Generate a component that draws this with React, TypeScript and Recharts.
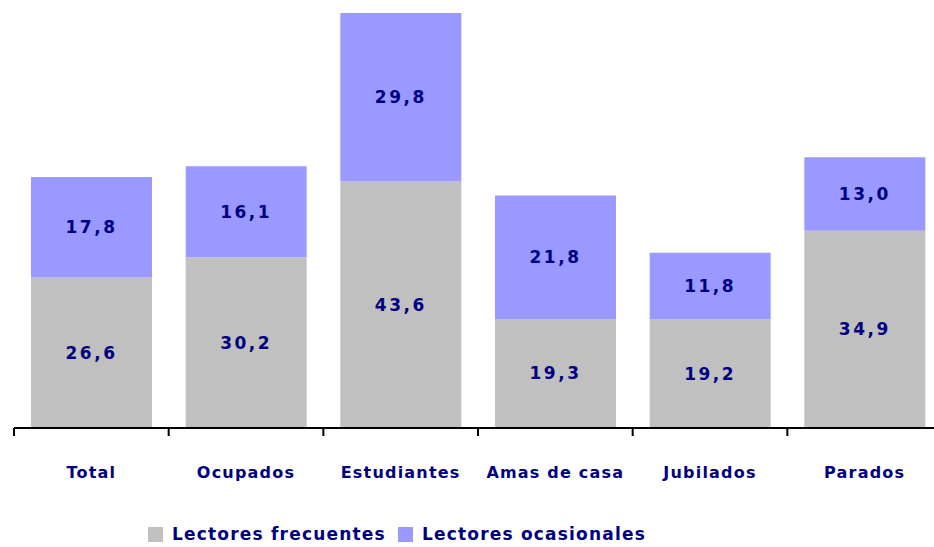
import { Bar, BarChart, LabelList, Legend, XAxis, YAxis } from "recharts";

const categories = ["Total", "Ocupados", "Estudiantes", "Amas de casa", "Jubilados", "Parados"];
const frecuentes = [26.6, 30.2, 43.6, 19.3, 19.2, 34.9];
const ocasionales = [17.8, 16.1, 29.8, 21.8, 11.8, 13.0];

const GREY = "#C0C0C0";
const PURPLE = "#9999FF";
const NAVY = "#000080";
const FONT = "'DejaVu Sans', Verdana, sans-serif";

const data = categories.map((name, i) => ({
  name,
  frecuentes: frecuentes[i],
  ocasionales: ocasionales[i],
}));

const fmt = (v: unknown) => Number(v).toFixed(1).replace(".", ",");

// category label in the middle, tick marks on the category boundaries
function AxisTick(props: any) {
  const { x, y, payload, width, visibleTicksCount, index } = props;
  const step = width / visibleTicksCount;
  return (
    <g>
      <line x1={x - step / 2} x2={x - step / 2} y1={y} y2={y + 8} stroke="#000" strokeWidth={2} />
      {index === visibleTicksCount - 1 && (
        <line x1={x + step / 2} x2={x + step / 2} y1={y} y2={y + 8} stroke="#000" strokeWidth={2} />
      )}
      <text
        x={x}
        y={y + 50}
        textAnchor="middle"
        fill={NAVY}
        fontFamily={FONT}
        fontWeight="bold"
        fontSize={16}
        letterSpacing={1.2}
      >
        {payload.value}
      </text>
    </g>
  );
}

function LegendBox() {
  const items = [
    { label: "Lectores frecuentes", color: GREY },
    { label: "Lectores ocasionales", color: PURPLE },
  ];
  return (
    <div style={{ display: "flex", alignItems: "center", marginLeft: 134 }}>
      {items.map((it) => (
        <div key={it.label} style={{ display: "flex", alignItems: "center", marginRight: 12 }}>
          <span style={{ width: 15, height: 15, background: it.color, display: "inline-block", marginRight: 9 }} />
          <span
            style={{
              color: NAVY,
              fontFamily: FONT,
              fontWeight: "bold",
              fontSize: 17,
              letterSpacing: 1.2,
              lineHeight: "20px",
            }}
          >
            {it.label}
          </span>
        </div>
      ))}
    </div>
  );
}

export default function App() {
  return (
    <div style={{ position: "absolute", left: 0, top: 0, width: 934, height: 547, overflow: "hidden", background: "#fff" }}>
      <BarChart
        width={942}
        height={547}
        data={data}
        margin={{ top: 13, right: 0, bottom: 39, left: 14 }}
        barCategoryGap={17}
      >
        <XAxis
          dataKey="name"
          interval={0}
          height={60}
          axisLine={{ stroke: "#000", strokeWidth: 2 }}
          tickLine={false}
          tickSize={0}
          tickMargin={0}
          tick={<AxisTick />}
        />
        <YAxis hide domain={[0, 73.4]} allowDataOverflow />
        <Legend verticalAlign="bottom" align="left" content={<LegendBox />} wrapperStyle={{ bottom: 3 }} />
        <Bar dataKey="frecuentes" stackId="a" fill={GREY} isAnimationActive={false}>
          <LabelList
            dataKey="frecuentes"
            position="center"
            formatter={fmt}
            fill={NAVY}
            fontFamily={FONT}
            fontWeight="bold"
            fontSize={17}
            letterSpacing={2.5}
          />
        </Bar>
        <Bar dataKey="ocasionales" stackId="a" fill={PURPLE} isAnimationActive={false}>
          <LabelList
            dataKey="ocasionales"
            position="center"
            formatter={fmt}
            fill={NAVY}
            fontFamily={FONT}
            fontWeight="bold"
            fontSize={17}
            letterSpacing={2.5}
          />
        </Bar>
      </BarChart>
    </div>
  );
}
